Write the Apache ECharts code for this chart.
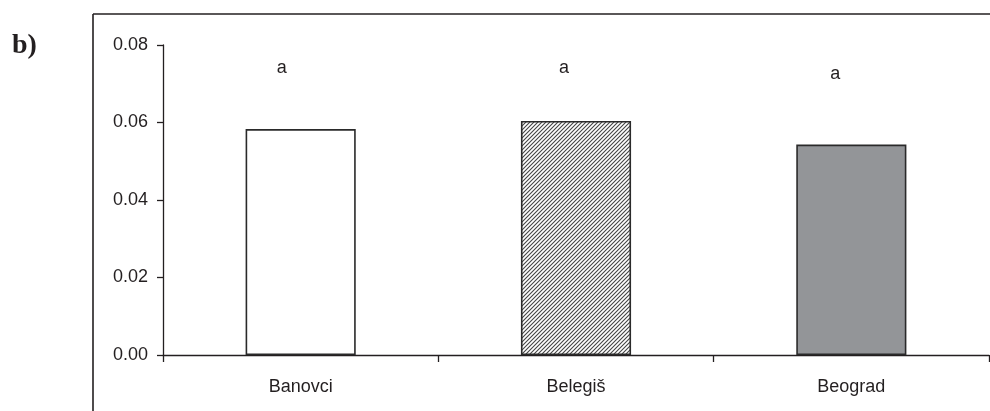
<!DOCTYPE html>
<html>
<head>
<meta charset="utf-8">
<script src="https://cdn.jsdelivr.net/npm/echarts@6/dist/echarts.min.js"></script>
<style>
html,body{margin:0;padding:0;background:#fff;}
#chart{width:990px;height:411px;}
</style>
</head>
<body>
<div id="chart"></div>
<script>
const categories = ['Banovci', 'Belegiš', 'Beograd'];
const values = [0.0583, 0.0604, 0.0543];
const letters = ['a', 'a', 'a'];
const yTicks = [0, 0.02, 0.04, 0.06, 0.08];

// style-only settings
const letterOffsets = [[-19, -52], [-12, -44], [-16, -62]];

function hatch() {
  const c = document.createElement('canvas');
  c.width = 4; c.height = 4;
  const g = c.getContext('2d');
  g.fillStyle = '#ffffff';
  g.fillRect(0, 0, 4, 4);
  g.strokeStyle = '#444';
  g.lineWidth = 1.1;
  g.beginPath();
  g.moveTo(-1, 5); g.lineTo(5, -1);
  g.moveTo(-1, 1); g.lineTo(1, -1);
  g.moveTo(3, 5); g.lineTo(5, 3);
  g.stroke();
  return { image: c, repeat: 'repeat' };
}

const fills = ['#ffffff', hatch(), '#939598'];
const txt = '#231f20';
const font = 'Liberation Sans, Arial, sans-serif';

const chart = echarts.init(document.getElementById('chart'), null, { renderer: 'canvas' });
chart.setOption({
  animation: false,
  backgroundColor: '#fff',
  grid: { left: 163, right: 1, top: 45, bottom: 56, containLabel: false },
  xAxis: {
    type: 'category',
    data: categories,
    boundaryGap: true,
    axisLine: { lineStyle: { color: '#231f20', width: 1.3 } },
    axisTick: { show: true, alignWithLabel: false, length: 7, lineStyle: { color: '#231f20', width: 1.3 } },
    axisLabel: { color: txt, fontSize: 18, fontFamily: font, margin: 23 },
    splitLine: { show: false }
  },
  yAxis: {
    type: 'value',
    min: yTicks[0],
    max: yTicks[yTicks.length - 1],
    interval: yTicks[1] - yTicks[0],
    axisLine: { show: true, lineStyle: { color: '#231f20', width: 1.3 } },
    axisTick: { show: true, length: 6, lineStyle: { color: '#231f20', width: 1.3 } },
    axisLabel: { color: txt, fontSize: 18, fontFamily: font, margin: 15, formatter: v => v.toFixed(2) },
    splitLine: { show: false }
  },
  series: [{
    type: 'bar',
    barWidth: '40%',
    data: values.map((v, i) => ({
      value: v,
      itemStyle: { color: fills[i], borderColor: '#2a2a2a', borderWidth: 1.6 },
      label: {
        show: true,
        position: 'top',
        distance: 0,
        offset: letterOffsets[i],
        formatter: letters[i],
        color: txt,
        fontSize: 18,
        fontFamily: font
      }
    }))
  }],
  graphic: [
    { type: 'line', shape: { x1: 93, y1: 14, x2: 990, y2: 14 }, style: { stroke: '#231f20', lineWidth: 1.6 } },
    { type: 'line', shape: { x1: 93, y1: 14, x2: 93, y2: 411 }, style: { stroke: '#231f20', lineWidth: 1.6 } },
    { type: 'text', left: 12, top: 32, style: { text: 'b)', font: 'bold 28px "Liberation Serif", "Times New Roman", serif', fill: '#231f20' } }
  ]
});
</script>
</body>
</html>
